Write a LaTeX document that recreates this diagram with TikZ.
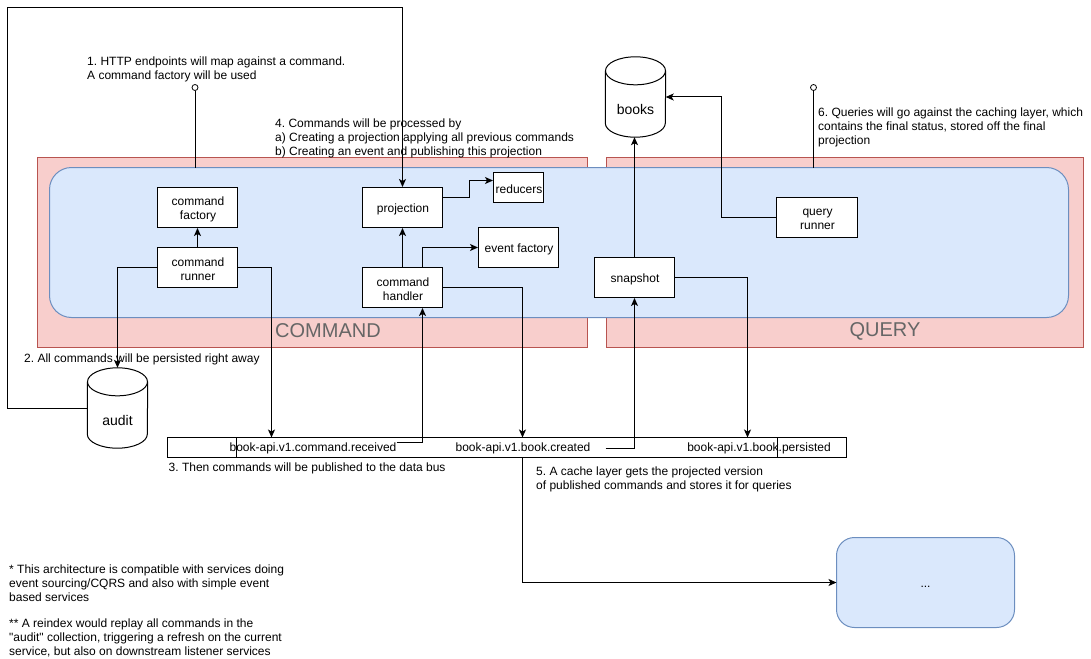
\documentclass[tikz,border=0pt]{standalone}
\usepackage{fontspec}
\setmainfont{Liberation Sans}
\newfontfamily\plainquote{Liberation Sans}
\AtBeginDocument{\frenchspacing}
\usetikzlibrary{arrows.meta,calc}
\tikzset{
  redbox/.style={draw=redline,fill=redfill,line width=1pt,anchor=north west,inner sep=0pt,outer sep=0pt},
  bluebox/.style={draw=blueline,fill=bluefill,line width=1pt,rounded corners=#1,inner sep=0pt,outer sep=0pt},
  whitebox/.style={draw=black,fill=white,line width=1pt,inner sep=0pt,minimum width=80pt,minimum height=40pt},
  boxtext/.style={inner sep=0pt,align=center,xshift=.5pt,yshift=-2pt,font=\fontsize{12}{14}\selectfont},
  cyl/.style={inner sep=0pt,minimum width=60pt,minimum height=80pt},
  cyltext/.style={yshift=-12pt,font=\fontsize{14}{16}\selectfont},
  note/.style={anchor=west,inner sep=0pt,align=left,font=\fontsize{12}{14}\selectfont},
  buslabel/.style={inner sep=0pt,font=\fontsize{12}{14}\selectfont},
  areatitle/.style={inner sep=0pt,text=titlegray,font=\fontsize{20}{24}\selectfont},
  arr/.style={draw=black,line width=1pt,-{Stealth[length=8pt,width=7pt,inset=2pt]}},
  conn/.style={draw=black,line width=1pt},
  pin/.style={circle,draw=black,fill=white,line width=.8pt,inner sep=0pt,minimum size=6pt}
}
\definecolor{redfill}{HTML}{F8CECC}
\definecolor{redline}{HTML}{B85450}
\definecolor{bluefill}{HTML}{DAE8FC}
\definecolor{blueline}{HTML}{6C8EBF}
\definecolor{titlegray}{HTML}{666666}
\newcommand\cylshape[1]{%
  \draw[line width=1pt] ([yshift=-14pt]#1.north west) -- ([yshift=14pt]#1.south west)
    arc[start angle=180,end angle=360,x radius=30pt,y radius=14pt] -- ([yshift=-14pt]#1.north east);
  \draw[line width=1pt] ([yshift=-14pt]#1.north) ellipse[x radius=30pt,y radius=14pt];}
\begin{document}
\begin{tikzpicture}[x=1pt,y=-1pt]
\useasboundingbox (0,0) rectangle (1091,658);
% areas
\node[redbox,minimum width=549.5pt,minimum height=190pt] (cmdarea) at (37.5,157.5) {};
\node[redbox,minimum width=476.5pt,minimum height=190pt] (qryarea) at (606.5,157.5) {};
\node[bluebox=22pt,minimum width=1019pt,minimum height=150pt,anchor=north west] (main) at (49.5,167.5) {};
\node[areatitle] (cmdtitle) at (328,331) {COMMAND};
\node[areatitle] (qrytitle) at (885,331) {QUERY};
% boxes
\node[whitebox,label={[boxtext]center:command\\factory}] (factory) at (197.5,207.5) {};
\node[whitebox,label={[boxtext]center:command\\runner}] (runner) at (197.5,267.5) {};
\node[whitebox,label={[boxtext]center:projection}] (projection) at (402.5,207.5) {};
\node[whitebox,minimum width=50pt,minimum height=30pt,label={[boxtext]center:reducers}] (reducers) at (518.5,187.5) {};
\node[whitebox,label={[boxtext]center:event factory}] (eventf) at (518.5,247.5) {};
\node[whitebox,label={[boxtext]center:command\\handler}] (handler) at (402.5,287.5) {};
\node[whitebox,label={[boxtext]center:snapshot}] (snapshot) at (634.5,277.5) {};
\node[whitebox,minimum width=81pt,label={[boxtext]center:query\\runner}] (qrunner) at (817,217.5) {};
% stores
\node[cyl,label={[cyltext]center:books}] (books) at (635.5,97) {};
\cylshape{books}
\node[cyl,label={[cyltext]center:audit}] (audit) at (117.5,408) {};
\cylshape{audit}
% bus
\node[draw=black,fill=white,line width=1pt,inner sep=0pt,outer sep=0pt,minimum width=679pt,minimum height=20pt,anchor=north west] (bus) at (167.5,437.5) {};
\node[bluebox=18pt,minimum width=178pt,minimum height=90pt,anchor=north west,label={[yshift=-4pt,inner sep=0pt,font=\fontsize{12}{14}\selectfont]center:...}] (other) at (836.5,537.5) {};
\draw[conn] ([xshift=68.5pt]bus.north west) -- ([xshift=68.5pt]bus.south west);
\draw[conn] ([xshift=609.5pt]bus.north west) -- ([xshift=609.5pt]bus.south west);
\node[buslabel] (recv) at (313,448.5) {book-api.v1.command.received};
\node[buslabel] (created) at (523,448.5) {book-api.v1.book.created};
\node[buslabel] (persisted) at (759,448.5) {book-api.v1.book.persisted};
% pins
\node[pin] (pin1) at (195,87.5) {};
\node[pin] (pin6) at (813.5,87.5) {};
\draw[conn] (pin1) -- (pin1 |- main.north);
\draw[conn] (pin6) -- (pin6 |- main.north);
% connectors
\coordinate (loopcorner) at (7.5,7.5);
\coordinate (qbend) at (721,217.5);
\draw[arr] (runner) -- (factory);
\draw[arr] (handler) -- (projection);
\draw[arr] (runner.west) -| (audit.north);
\draw[arr] (runner.east) -| ([xshift=104pt]bus.north west);
\draw[arr] (audit.west) -| (loopcorner) -| (projection.north);
\draw[arr] ([yshift=10pt]projection.east) -- ++(26pt,0) |- ([yshift=7pt]reducers.west);
\draw[arr] ([xshift=20pt]handler.north) |- (eventf.west);
\draw[arr] (handler.east) -| ([xshift=355pt]bus.north west);
\draw[arr] ([yshift=6pt]recv.east) -| ([xshift=20pt]handler.south);
\draw[arr] ([xshift=15pt]created.east) -| (snapshot.south);
\draw[arr] (snapshot) -- (snapshot |- books.south);
\draw[arr] (snapshot.east) -| ([xshift=580pt]bus.north west);
\draw[arr] (qrunner.west) -- (qbend) |- (books.east);
\draw[arr] ([xshift=355pt]bus.south west) |- (other.west);
% notes
\node[note] (n1) at (87,69.7) {1. HTTP endpoints will map against a command.\\A command factory will be used};
\node[note] (n4) at (275,138) {4. Commands will be processed by\\a) Creating a projection applying all previous commands\\b) Creating an event and publishing this projection};
\node[note] (n6) at (818,127.5) {6. Queries will go against the caching layer, which\\contains the final status, stored off the final\\projection};
\node[note] (n2) at (24,359) {2. All commands will be persisted right away};
\node[note] (n3) at (168.5,468) {3. Then commands will be published to the data bus};
\node[note] (n5) at (536,479) {5. A cache layer gets the projected version\\of published commands and stores it for queries};
\node[note] (n7) at (9,583) {* This architecture is compatible with services doing\\event sourcing/CQRS and also with simple event\\based services};
\node[note] (n8) at (9,638) {** A reindex would replay all commands in the\\{\plainquote "}audit{\plainquote "} collection, triggering a refresh on the current\\service, but also on downstream listener services};
\end{tikzpicture}
\end{document}
